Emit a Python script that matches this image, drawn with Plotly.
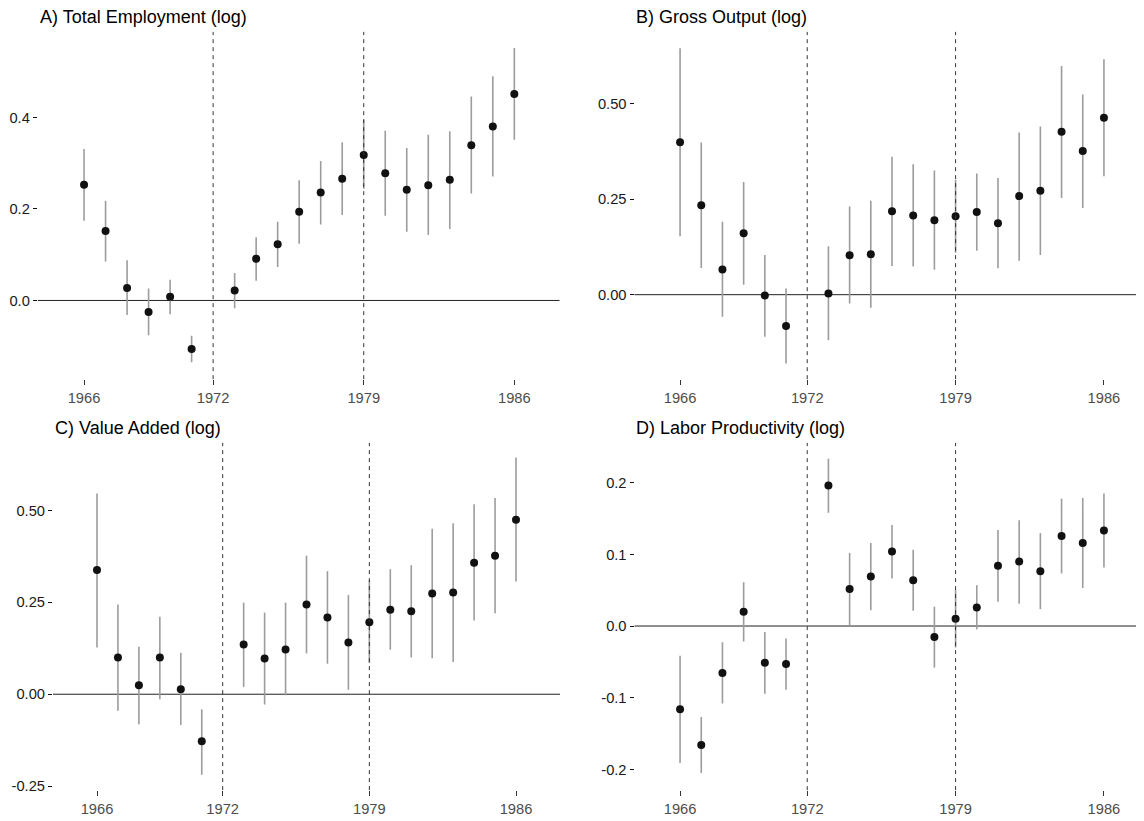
import plotly.graph_objects as go

years = [1966, 1967, 1968, 1969, 1970, 1971, 1973, 1974, 1975, 1976,
         1977, 1978, 1979, 1980, 1981, 1982, 1983, 1984, 1985, 1986]

# A) Total Employment (log)
emp_est = [0.253, 0.152, 0.027, -0.025, 0.008, -0.106, 0.022, 0.091, 0.123, 0.194,
           0.236, 0.266, 0.318, 0.278, 0.242, 0.252, 0.264, 0.339, 0.380, 0.451]
emp_hi = [0.331, 0.218, 0.088, 0.026, 0.045, -0.077, 0.060, 0.138, 0.172, 0.263,
          0.305, 0.346, 0.395, 0.371, 0.333, 0.362, 0.370, 0.446, 0.490, 0.552]
emp_lo = [0.174, 0.085, -0.032, -0.076, -0.030, -0.135, -0.017, 0.043, 0.073, 0.124,
          0.166, 0.187, 0.244, 0.185, 0.150, 0.143, 0.156, 0.234, 0.271, 0.351]

# B) Gross Output (log)
out_est = [0.399, 0.234, 0.066, 0.161, -0.002, -0.082, 0.003, 0.103, 0.106, 0.218,
           0.207, 0.195, 0.205, 0.216, 0.187, 0.258, 0.272, 0.426, 0.376, 0.463]
out_hi = [0.645, 0.398, 0.191, 0.295, 0.104, 0.016, 0.127, 0.231, 0.246, 0.361,
          0.341, 0.325, 0.300, 0.317, 0.305, 0.424, 0.440, 0.598, 0.524, 0.616]
out_lo = [0.153, 0.070, -0.058, 0.026, -0.110, -0.180, -0.119, -0.023, -0.034, 0.075,
          0.074, 0.065, 0.110, 0.115, 0.069, 0.089, 0.104, 0.253, 0.227, 0.310]

# C) Value Added (log)
va_est = [0.338, 0.100, 0.0245, 0.100, 0.0136, -0.128, 0.135, 0.097, 0.122, 0.244,
          0.209, 0.141, 0.196, 0.230, 0.226, 0.274, 0.277, 0.358, 0.377, 0.475]
va_hi = [0.546, 0.244, 0.129, 0.211, 0.1125, -0.041, 0.249, 0.222, 0.249, 0.377,
         0.335, 0.270, 0.310, 0.340, 0.351, 0.450, 0.465, 0.517, 0.534, 0.644]
va_lo = [0.127, -0.045, -0.082, -0.014, -0.084, -0.219, 0.020, -0.028, -0.003, 0.111,
         0.083, 0.012, 0.085, 0.121, 0.100, 0.098, 0.088, 0.2005, 0.2205, 0.307]

# D) Labor Productivity (log)
lp_est = [-0.116, -0.166, -0.0655, 0.0198, -0.0512, -0.053, 0.196, 0.0517, 0.069, 0.104,
          0.0637, -0.0152, 0.010, 0.026, 0.084, 0.090, 0.0766, 0.1255, 0.116, 0.1333]
lp_hi = [-0.0415, -0.127, -0.0226, 0.061, -0.0083, -0.0175, 0.2335, 0.102, 0.116, 0.141,
         0.1066, 0.027, 0.050, 0.057, 0.134, 0.1476, 0.1296, 0.1776, 0.1785, 0.185]
lp_lo = [-0.191, -0.205, -0.108, -0.0217, -0.0946, -0.089, 0.158, 0.0014, 0.022, 0.0664,
         0.0212, -0.058, -0.030, -0.0046, 0.0337, 0.031, 0.0235, 0.0734, 0.053, 0.0817]

titles = ["A) Total Employment (log)", "B) Gross Output (log)",
          "C) Value Added (log)", "D) Labor Productivity (log)"]
x_ticks = [1966, 1972, 1979, 1986]
break_years = [1972, 1979]

y_ticks = [
    ([0.0, 0.2, 0.4], ["0.0", "0.2", "0.4"]),
    ([0.0, 0.25, 0.5], ["0.00", "0.25", "0.50"]),
    ([-0.25, 0.0, 0.25, 0.5], ["-0.25", "0.00", "0.25", "0.50"]),
    ([-0.2, -0.1, 0.0, 0.1, 0.2], ["-0.2", "-0.1", "0.0", "0.1", "0.2"]),
]
series = [(emp_est, emp_lo, emp_hi), (out_est, out_lo, out_hi),
          (va_est, va_lo, va_hi), (lp_est, lp_lo, lp_hi)]

# page body has an 8px margin, so the figure is drawn at (8, 8) in the window
OFF = 8
W, H = 1144 - OFF, 821 - OFF
# panel pixel boxes in window coordinates: left, right, top, bottom
boxes = [(37.8, 559.5, 32, 381), (634.5, 1144, 32, 381),
         (53, 560, 445, 794), (634.5, 1144, 445, 794)]
x_ranges = [[1963.85, 1988.1], [1963.85, 1987.89], [1963.9, 1988.1], [1963.85, 1987.89]]
y_ranges = [[-0.172, 0.587], [-0.221, 0.6875], [-0.261, 0.684], [-0.229, 0.2556]]

FONT = "Liberation Sans, Arial, sans-serif"
fig = go.Figure()
shapes = []
annotations = []
for i in range(4):
    est, lo, hi = series[i]
    xa = "x" if i == 0 else f"x{i+1}"
    ya = "y" if i == 0 else f"y{i+1}"
    fig.add_trace(go.Scatter(
        x=years, y=est, mode="markers", xaxis=xa, yaxis=ya,
        marker=dict(color="#111111", size=8),
        error_y=dict(type="data", symmetric=False,
                     array=[h - e for h, e in zip(hi, est)],
                     arrayminus=[e - l for e, l in zip(est, lo)],
                     width=0, thickness=1.6, color="#9c9c9c"),
        showlegend=False, hoverinfo="skip"))
    l, r, t, b = [v - OFF for v in boxes[i]]
    key = "" if i == 0 else str(i + 1)
    fig.update_layout(**{
        f"xaxis{key}": dict(domain=[l / W, min(r / W, 1.0)], range=x_ranges[i], anchor=ya,
                            tickvals=x_ticks, ticktext=[str(v) for v in x_ticks],
                            showgrid=False, zeroline=False, showline=False,
                            ticks="outside", ticklen=5, tickwidth=1, tickcolor="#333333",
                            tickfont=dict(family=FONT, size=14.7, color="#4d4d4d")),
        f"yaxis{key}": dict(domain=[1 - b / H, 1 - t / H], range=y_ranges[i], anchor=xa,
                            tickvals=y_ticks[i][0], ticktext=y_ticks[i][1],
                            showgrid=False, zeroline=False, showline=False,
                            ticks="outside", ticklen=4, tickwidth=1, tickcolor="#111111",
                            tickfont=dict(family=FONT, size=14.7, color="#1a1a1a")),
    })
    shapes.append(dict(type="line", xref=f"{xa} domain", yref=ya, x0=0, x1=1, y0=0, y1=0,
                       line=dict(color="#222222", width=1), layer="below"))
    for yr in break_years:
        shapes.append(dict(type="line", xref=xa, yref=f"{ya} domain", x0=yr, x1=yr, y0=0, y1=1,
                           line=dict(color="#333333", width=1, dash="4px,4px"), layer="above"))
    annotations.append(dict(text=titles[i], xref="paper", yref="paper",
                            x=l / W, y=1 - (t - 15) / H, xanchor="left", yanchor="middle",
                            showarrow=False, font=dict(family=FONT, size=18, color="#000000")))

fig.update_layout(width=W, height=H, margin=dict(l=0, r=0, t=0, b=0),
                  plot_bgcolor="white", paper_bgcolor="white",
                  shapes=shapes, annotations=annotations)
fig.write_html("out.html")
